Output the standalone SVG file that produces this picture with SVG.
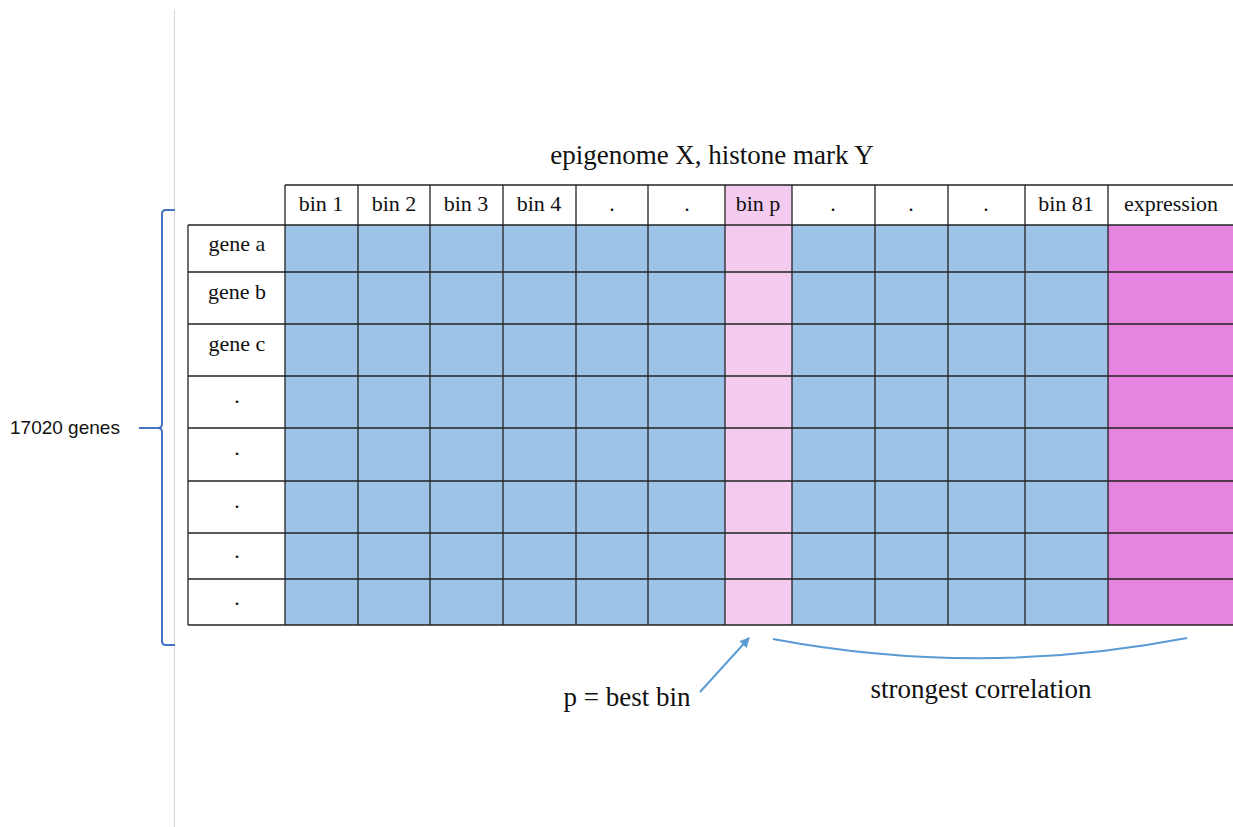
<svg xmlns="http://www.w3.org/2000/svg" width="1233" height="827" viewBox="0 0 1233 827">
<style>
.t{fill:#111;text-anchor:middle}
.h{font-size:22px}
.g{stroke:#222;stroke-width:1.3;fill:none}
.blue{fill:#9DC3E6}
.pink{fill:#F2CBEF}
.mag{fill:#E685DF}
.conn{stroke:#5B9BD5;stroke-width:2;fill:none}
</style>
<defs>
<marker id="ah" viewBox="0 0 10 10" refX="9" refY="5" markerWidth="5" markerHeight="5" orient="auto"><path d="M0,0 L10,5 L0,10 z" fill="#5B9BD5"/></marker>
</defs>
<rect width="1233" height="827" fill="#fff"/>
<line x1="174.5" y1="10" x2="174.5" y2="827" stroke="#d9d9d9" stroke-width="1.2"/>
<g font-family="Liberation Serif, DejaVu Serif, serif">
<text x="712" y="164" class="t" font-size="27">epigenome X, histone mark Y</text>
</g>
<g id="table">
<rect x="285" y="225" width="440" height="400" class="blue"/>
<rect x="725" y="185" width="67" height="440" class="pink"/>
<rect x="792" y="225" width="316" height="400" class="blue"/>
<rect x="1108" y="225" width="125" height="400" class="mag"/>
<g class="g">
<line x1="285" y1="185" x2="1233" y2="185"/>
<line x1="188" y1="225" x2="1233" y2="225"/>
<line x1="188" y1="272" x2="1233" y2="272"/>
<line x1="188" y1="324" x2="1233" y2="324"/>
<line x1="188" y1="376" x2="1233" y2="376"/>
<line x1="188" y1="428" x2="1233" y2="428"/>
<line x1="188" y1="481" x2="1233" y2="481"/>
<line x1="188" y1="533" x2="1233" y2="533"/>
<line x1="188" y1="579" x2="1233" y2="579"/>
<line x1="188" y1="625" x2="1233" y2="625"/>
<line x1="188" y1="225" x2="188" y2="625"/>
<line x1="285" y1="185" x2="285" y2="625"/>
<line x1="358" y1="185" x2="358" y2="625"/>
<line x1="430" y1="185" x2="430" y2="625"/>
<line x1="503" y1="185" x2="503" y2="625"/>
<line x1="576" y1="185" x2="576" y2="625"/>
<line x1="648" y1="185" x2="648" y2="625"/>
<line x1="725" y1="185" x2="725" y2="625"/>
<line x1="792" y1="185" x2="792" y2="625"/>
<line x1="875" y1="185" x2="875" y2="625"/>
<line x1="948" y1="185" x2="948" y2="625"/>
<line x1="1025" y1="185" x2="1025" y2="625"/>
<line x1="1108" y1="185" x2="1108" y2="625"/>
</g>
<g class="t h" font-family="Liberation Serif, DejaVu Serif, serif">
<text x="321" y="211">bin 1</text>
<text x="394" y="211">bin 2</text>
<text x="466" y="211">bin 3</text>
<text x="539" y="211">bin 4</text>
<text x="612" y="211">.</text>
<text x="687" y="211">.</text>
<text x="758" y="211">bin p</text>
<text x="833" y="211">.</text>
<text x="911" y="211">.</text>
<text x="986" y="211">.</text>
<text x="1066" y="211">bin 81</text>
<text x="1171" y="211">expression</text>
<text x="237" y="251">gene a</text>
<text x="237" y="299">gene b</text>
<text x="237" y="351">gene c</text>
<text x="237" y="403">.</text>
<text x="237" y="455">.</text>
<text x="237" y="508">.</text>
<text x="237" y="558">.</text>
<text x="237" y="605">.</text>
</g>
</g>
<g id="brace">
<path d="M175,210 L166,210 Q162,210 162,214 L162,424 Q162,428 158,428 L139,428 M158,428 Q162,428 162,432 L162,641 Q162,645 166,645 L175,645" fill="none" stroke="#4472C4" stroke-width="2"/>
<text x="10" y="434" font-family="Liberation Sans, sans-serif" font-size="19" fill="#111">17020 genes</text>
</g>
<g id="connectors">
<line x1="700" y1="692" x2="749" y2="638" class="conn" marker-end="url(#ah)"/>
<path d="M773,639 Q980,678 1187,638" class="conn"/>
</g>
<g font-family="Liberation Serif, DejaVu Serif, serif">
<text x="627" y="706" class="t" font-size="27">p = best bin</text>
<text x="981" y="698" class="t" font-size="27">strongest correlation</text>
</g>
</svg>
